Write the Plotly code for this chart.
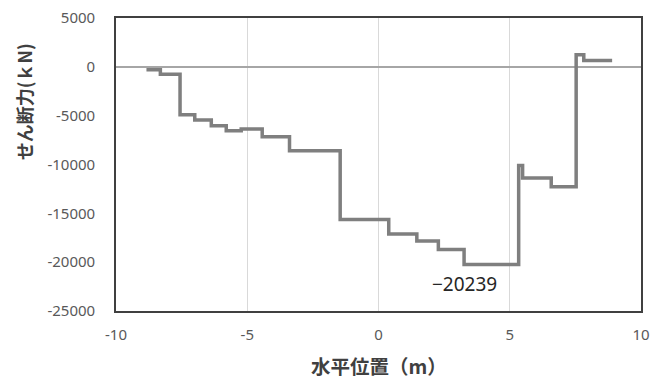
import plotly.graph_objects as go

# Step start positions (m) and shear force (kN) on each step
x_pos = [-8.84, -8.31, -7.56, -7.00, -6.37, -5.80, -5.23, -4.43, -3.39, -1.46,
         0.39, 1.46, 2.28, 3.26, 5.34, 5.49, 6.58, 7.53, 7.82, 8.90]
shear = [-300, -750, -4900, -5440, -6020, -6540, -6370, -7150, -8590, -15640,
         -17110, -17830, -18710, -20239, -10090, -11370, -12290, 1230, 650, 650]

x_ticks = [-10, -5, 0, 5, 10]
y_ticks = [5000, 0, -5000, -10000, -15000, -20000, -25000]
min_label = "\u221220239"
x_title = "<b>水平位置（m）</b>"
y_title = "<b>せん断力(ｋN)</b>"

font_family = "Noto Sans CJK JP, Noto Sans, sans-serif"
tick_family = "Noto Sans, Noto Sans CJK JP, sans-serif"

min_idx = shear.index(min(shear))

fig = go.Figure()
fig.add_trace(go.Scatter(
    x=x_pos, y=shear, mode="lines", line_shape="hv",
    line=dict(color="#7f7f7f", width=3.5),
    showlegend=False, hoverinfo="skip",
))

fig.add_annotation(
    x=x_pos[min_idx], y=shear[min_idx], text=min_label, showarrow=False,
    xanchor="center", yanchor="middle", yshift=-19,
    font=dict(family=tick_family, size=19, color="#262626"),
)
fig.add_annotation(
    xref="paper", yref="paper", x=0.5, y=-0.185, text=x_title, showarrow=False,
    xanchor="center", yanchor="middle",
    font=dict(family=font_family, size=19.5, color="#404040"),
)
fig.add_annotation(
    xref="paper", yref="paper", x=-0.175, y=0.713, text=y_title, showarrow=False,
    xanchor="center", yanchor="middle", textangle=-90,
    font=dict(family=font_family, size=18, color="#404040"),
)

fig.update_layout(
    width=655, height=383,
    margin=dict(l=116, r=14, t=18, b=72),
    paper_bgcolor="white", plot_bgcolor="white",
    font=dict(family=tick_family, size=15, color="#595959"),
    xaxis=dict(
        range=[-10, 10], tickvals=x_ticks, ticktext=[str(v) for v in x_ticks],
        showgrid=True, gridcolor="#d9d9d9", gridwidth=1.3,
        zeroline=False, showline=True, mirror=True,
        linecolor="#404040", linewidth=1.6, ticks="",
        ticklabelstandoff=9, automargin=False,
        tickfont=dict(family=tick_family, size=15, color="#595959"),
    ),
    yaxis=dict(
        range=[-25000, 5000], tickvals=y_ticks, ticktext=[str(v) for v in y_ticks],
        showgrid=False, zeroline=True, zerolinecolor="#a6a6a6", zerolinewidth=1.6,
        showline=True, mirror=True, linecolor="#404040", linewidth=1.6, ticks="",
        ticklabelstandoff=16, automargin=False,
        tickfont=dict(family=tick_family, size=15, color="#595959"),
    ),
)

fig.write_html(
    "out.html",
    config={"displayModeBar": False},
    post_script="document.body.style.margin='0';document.body.style.overflow='hidden';",
)
